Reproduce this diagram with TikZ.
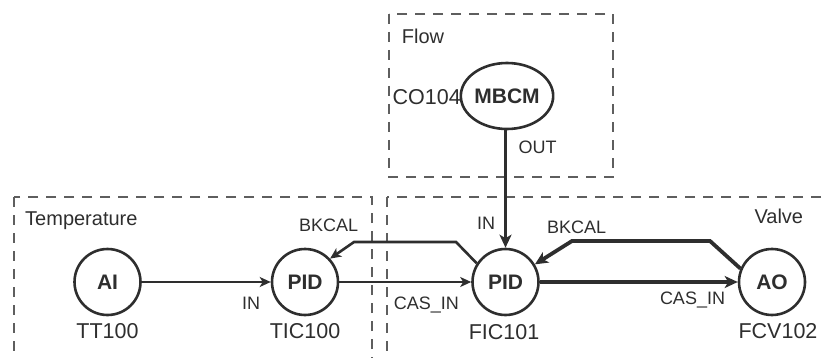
\documentclass[tikz,border=0pt]{standalone}
\usepackage{fontspec}
\setmainfont{Liberation Sans}
\usetikzlibrary{arrows.meta,shapes.geometric}
\definecolor{ink}{HTML}{2E2E2E}
\definecolor{boxgray}{HTML}{5E5E5E}
\tikzset{
  blk/.style={circle, draw=ink, line width=2.6pt, minimum size=66pt, inner sep=0pt,
    text=ink, font=\fontsize{21}{24}\selectfont\bfseries},
  tag/.style={inner sep=0pt, text=ink, font=\fontsize{21.5}{24}\selectfont, text height=15.4pt, text depth=0pt},
  port/.style={inner sep=0pt, text=ink, font=\fontsize{18}{20}\selectfont, text height=12.9pt, text depth=0pt},
  title/.style={inner sep=0pt, text=ink, font=\fontsize{20}{22}\selectfont, text height=14.3pt, text depth=0pt},
  grp/.style={draw=boxgray, line width=2.7pt, dash pattern=on 10pt off 8pt},
  thinlink/.style={draw=ink, line width=2.6pt},
  thicklink/.style={draw=ink, line width=3.8pt},
  tipthin/.style={-{Stealth[length=11pt,width=10pt,inset=3pt]}},
  tipthick/.style={-{Stealth[length=13pt,width=12pt,inset=3.5pt]}},
}
\begin{document}
\begin{tikzpicture}[x=1pt,y=-1pt]
\useasboundingbox (0,0) rectangle (826,358);
\clip (0,0) rectangle (826,358);
% group boxes
\draw[grp] (389,14) rectangle (613,177);
\draw[grp] (14,197) rectangle (372,400);
\draw[grp] (387,197) rectangle (860,400);
\node[title, anchor=west] (tFlow) at (401.7,36) {Flow};
\node[title, anchor=west] (tTemp) at (25,218.3) {Temperature};
\node[title, anchor=east] (tValve) at (803.3,216.7) {Valve};
% blocks
\node[blk] (AI) at (107.5,282) {AI};
\node[blk] (TIC) at (305,282) {PID};
\node[blk] (FIC) at (505.5,282) {PID};
\node[blk] (AO) at (772,282) {AO};
\node[ellipse, draw=ink, line width=2.6pt, minimum width=82pt, minimum height=66pt, inner sep=0pt,
  text=ink, font=\fontsize{21}{24}\selectfont\bfseries] (MBCM) at (507,96) {MBCM};
% tags
\node[tag] (lTT) at (107.5,331) {TT100};
\node[tag] (lTIC) at (305,331) {TIC100};
\node[tag] (lFIC) at (504,331.5) {FIC101};
\node[tag] (lFCV) at (778,331) {FCV102};
\node[tag] (lCO) at (426.7,96.7) {CO104};
% ports
\node[port] (pOUT) at (537.5,146.7) {OUT};
\node[port] (pIN1) at (251,302.7) {IN};
\node[port] (pIN2) at (486,223.3) {IN};
\node[port] (pBK1) at (328.7,225) {BKCAL};
\node[port] (pBK2) at (576.7,227) {BKCAL};
\node[port] (pCAS1) at (426.3,302.7) {CAS\_IN};
\node[port] (pCAS2) at (692.5,298.5) {CAS\_IN};
% connectors
\draw[thinlink, tipthin] (AI) -- (TIC);
\draw[thinlink, tipthin] (TIC) -- (FIC);
\draw[thinlink, tipthin] (FIC.147) -- (456,242) -- (354,242) -- (TIC.43);
\draw[thicklink, tipthick] (FIC) -- (AO);
\draw[thicklink, tipthick] (AO.157) -- (710,241) -- (572,241) -- (FIC.31);
\draw[thicklink, tipthick] (MBCM.south -| FIC.north) -- (FIC.north);
\end{tikzpicture}
\end{document}
